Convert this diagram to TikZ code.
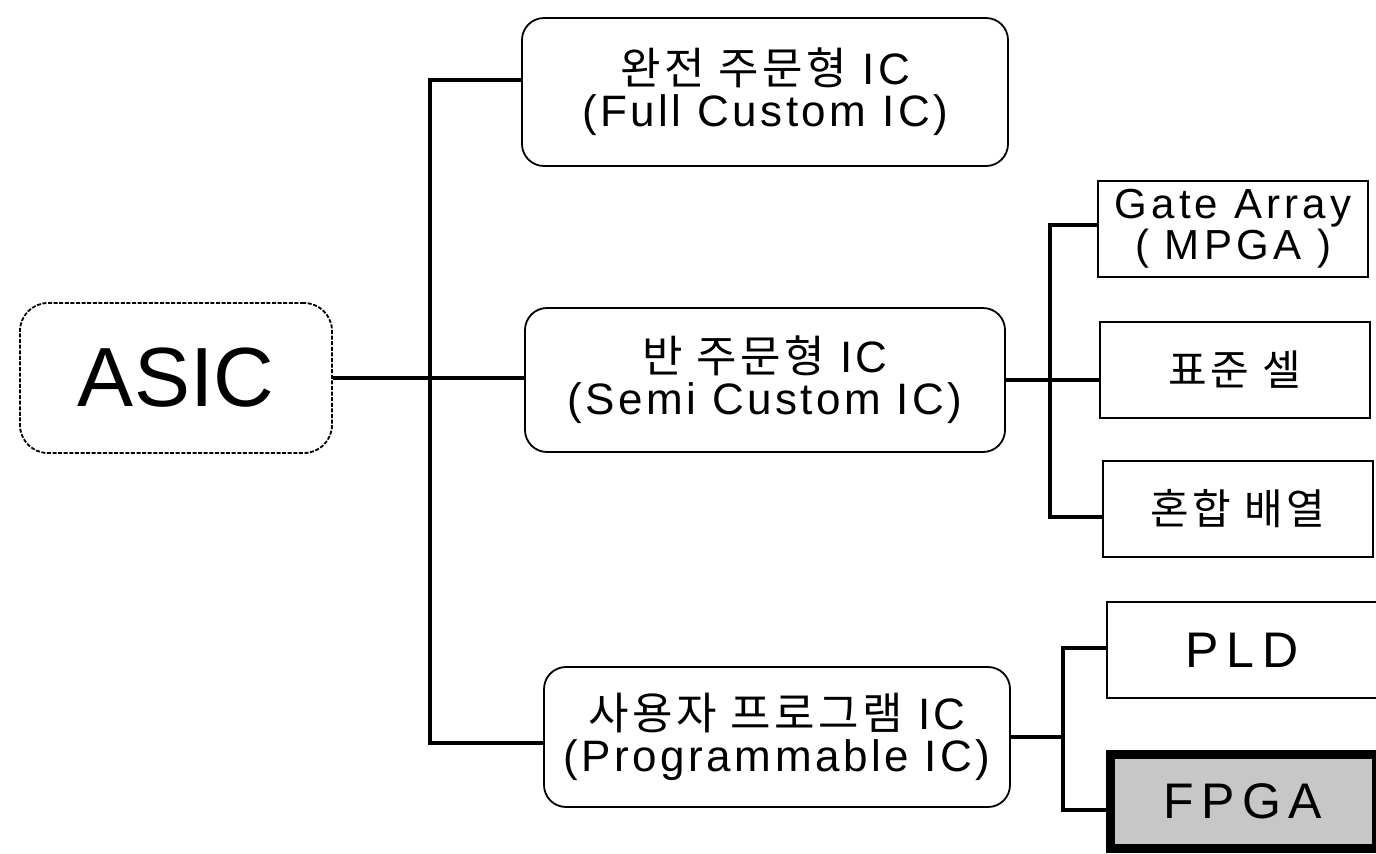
\documentclass[tikz,border=0pt]{standalone}
\usepackage{fontspec}
\setmainfont{Liberation Sans}[LetterSpace=8]
\newfontfamily\kr{Noto Sans CJK KR}[LetterSpace=8]

\begin{document}
\begin{tikzpicture}[x=0.5pt,y=0.5pt,yscale=-1,
  rbox/.style={draw,line width=0.9pt,rounded corners=11pt,align=center,inner sep=0pt,font=\fontsize{22}{21}\selectfont},
  sbox/.style={draw,line width=0.9pt,align=center,inner sep=0pt,minimum width=135pt,minimum height=48pt,font=\fontsize{21}{19}\selectfont\addfontfeature{LetterSpace=10}},
  trunk/.style={line width=2.3pt}]
\useasboundingbox (0,0) rectangle (1376,853);

%Shape: Rounded Rect (root)
\node (asic) at (176,378) [rbox,dash pattern=on 2pt off 0.8pt,rounded corners=14pt,minimum width=156pt,minimum height=75pt,font=\fontsize{42}{42}\selectfont\addfontfeature{LetterSpace=0}] {ASIC};

%Shape: Rounded Rect (first level)
\node (full) at (765,92) [rbox,minimum width=243pt,minimum height=74pt] {{\kr 완전 주문형} IC\\(Full Custom IC)};
\node (semi) at (765,380) [rbox,minimum width=240pt,minimum height=72pt] {{\kr 반 주문형} IC\\(Semi Custom IC)};
\node (prog) at (777,737) [rbox,minimum width=233pt,minimum height=70pt] {{\kr 사용자 프로그램} IC\\(Programmable IC)};

%Shape: Rectangle (second level)
\node (gate) at (1233,229) [sbox] {Gate Array\\( MPGA )};
\node (std) at (1235,370) [sbox] {\kr 표준 셀};
\node (mix) at (1238,509) [sbox] {\kr 혼합 배열};
\node (pld) at (1242,650) [sbox,font=\fontsize{25}{25}\selectfont\addfontfeature{LetterSpace=15}] {PLD};
\node (fpga) at (1243,801) [sbox,line width=4.5pt,fill=black!22,minimum width=133pt,minimum height=47pt,font=\fontsize{25}{25}\selectfont\addfontfeature{LetterSpace=15}] {FPGA};

%Junctions
\coordinate (j1top) at (430,80);
\coordinate (j1bot) at (430,743);
\coordinate (j2top) at (1050,225);
\coordinate (j2bot) at (1050,517);
\coordinate (j3top) at (1063,648);
\coordinate (j3bot) at (1063,810);

%Straight Lines
\draw[trunk] (asic.east) -- (asic.east -| semi.west);
\draw[trunk] (full.west |- j1top) -- (j1top) -- (j1bot) -- (prog.west |- j1bot);
\draw[trunk] (semi.east) -- (semi.east -| std.west);
\draw[trunk] (gate.west |- j2top) -- (j2top) -- (j2bot) -- (mix.west |- j2bot);
\draw[trunk] (prog.east) -- (prog.east -| j3top);
\draw[trunk] (pld.west |- j3top) -- (j3top) -- (j3bot) -- (fpga.west |- j3bot);
\end{tikzpicture}
\end{document}
